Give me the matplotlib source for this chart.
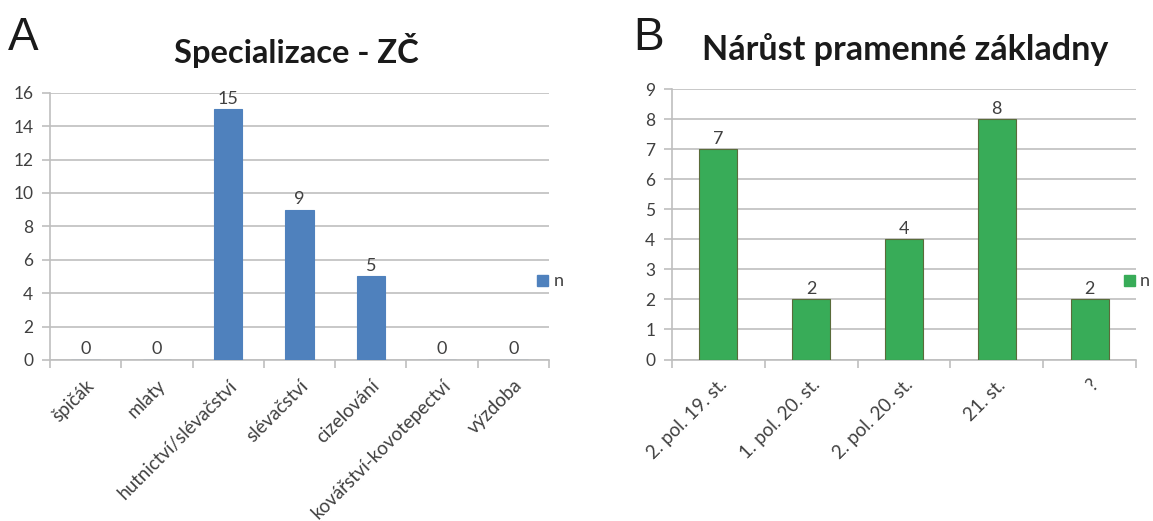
import matplotlib
matplotlib.use("Agg")
import matplotlib.pyplot as plt
import numpy as np

plt.rcParams['font.family'] = ['Lato', 'DejaVu Sans']

cats_a = ["špičák", "mlaty", "hutnictví/slévačství", "slévačství", "cizelování",
          "kovářství-kovotepectví", "výzdoba"]
vals_a = [0, 0, 15, 9, 5, 0, 0]
cats_b = ["2. pol. 19. st.", "1. pol. 20. st.", "2. pol. 20. st.", "21. st.", "?"]
vals_b = [7, 2, 4, 8, 2]
yticks_a = list(range(0, 17, 2))
yticks_b = list(range(0, 10, 1))

W, H = 1153, 521
fig = plt.figure(figsize=(W/100, H/100), dpi=100)

grid_c = '#BFBFBF'
text_c = '#404040'
FS = 13.5
FSY = 12.5

def make(ax, cats, vals, yticks, color, edge, width, title, letter, title_x, letter_x):
    x = np.arange(len(cats))
    ax.bar(x, vals, width=width, color=color, edgecolor=edge, linewidth=0.8, zorder=3)
    ax.set_xlim(-0.5, len(cats) - 0.5)
    ax.set_ylim(yticks[0], yticks[-1])
    ax.set_yticks(yticks)
    ax.yaxis.grid(True, color=grid_c, linewidth=1.2, zorder=0)
    ax.set_axisbelow(True)
    for s in ['top', 'right']:
        ax.spines[s].set_visible(False)
    ax.spines['left'].set_color(grid_c)
    ax.spines['bottom'].set_color(grid_c)
    ax.spines['left'].set_linewidth(1.2)
    ax.spines['bottom'].set_linewidth(1.2)
    ax.tick_params(axis='y', length=6, width=1.2, color=grid_c, labelsize=FSY,
                   labelcolor=text_c, pad=6)
    ax.set_xticks(np.arange(-0.5, len(cats) + 0.5, 1), minor=False)
    ax.set_xticklabels([])
    ax.tick_params(axis='x', which='major', length=6, width=1.2, color=grid_c)
    ax.set_xticks(x, minor=True)
    ax.set_xticklabels(cats, minor=True, rotation=45, ha='right', rotation_mode='anchor',
                       fontsize=FS, color=text_c)
    ax.tick_params(axis='x', which='minor', length=0, pad=12)
    for xi, v in zip(x, vals):
        ax.annotate(str(v), (xi, v), xytext=(0, 2), textcoords='offset points',
                    ha='center', va='bottom', fontsize=FSY + 0.5, color=text_c)
    fig.text(title_x, 1 - 50/H, title, ha='center', va='center', fontsize=title_fs[letter],
             fontweight='bold', color='#1a1a1a')
    fig.text(letter_x, 1 - 38/H, letter, ha='left', va='center', fontsize=33,
             color='#1a1a1a', family='Liberation Sans')

title_fs = {"A": 23.5, "B": 24.5}

ax1 = fig.add_axes([50/W, 1 - 360/H, (549-50)/W, (360-92.7)/H])
make(ax1, cats_a, vals_a, yticks_a, '#4F81BD', '#4F81BD', 0.4,
     "Specializace - ZČ", "A", 296/W, 8/W)
ax2 = fig.add_axes([672/W, 1 - 359.5/H, (1136-672)/W, (359.5-89.3)/H])
make(ax2, cats_b, vals_b, yticks_b, '#38AC58', '#5a6b3a', 0.41,
     "Nárůst pramenné základny", "B", 905/W, 633/W)

# legends
fig.patches.append(plt.Rectangle((537/W, 1 - 286/H), 11/W, 11/H, transform=fig.transFigure,
                                 color='#4F81BD'))
fig.text(554/W, 1 - 281/H, "n", ha='left', va='center', fontsize=FSY + 0.5, color=text_c)
fig.patches.append(plt.Rectangle((1124/W, 1 - 286/H), 11/W, 11/H, transform=fig.transFigure,
                                 color='#38AC58'))
fig.text(1140/W, 1 - 281/H, "n", ha='left', va='center', fontsize=FSY + 0.5, color=text_c)

fig.savefig("out.png", dpi=100)
